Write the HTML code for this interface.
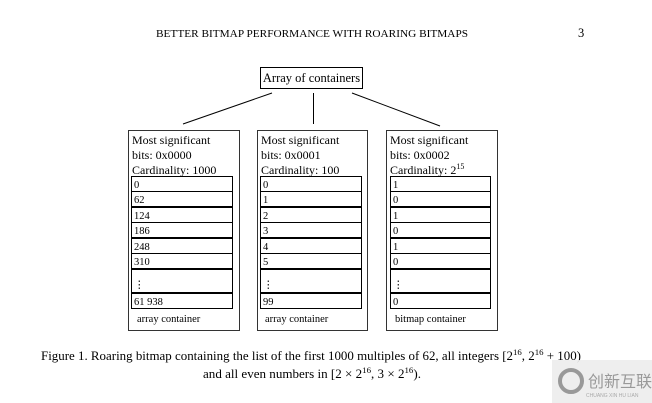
<!DOCTYPE html>
<html><head><meta charset="utf-8"><style>
html,body{margin:0;padding:0;background:#fff;}
svg{display:block;font-family:"Liberation Serif",serif;}
</style></head><body>
<svg width="652" height="403" viewBox="0 0 652 403" xmlns="http://www.w3.org/2000/svg">
<text x="312" y="37" font-size="10.5" text-anchor="middle" textLength="312" lengthAdjust="spacingAndGlyphs">BETTER BITMAP PERFORMANCE WITH ROARING BITMAPS</text>
<text x="578" y="37" font-size="12.5">3</text>
<rect x="260.5" y="67.5" width="102" height="21" fill="none" stroke="#000"/>
<text x="311.5" y="82" font-size="12.5" text-anchor="middle">Array of containers</text>
<g stroke="#000" stroke-width="1">
<line x1="272" y1="93" x2="183" y2="124"/>
<line x1="313.5" y1="93" x2="313.5" y2="124"/>
<line x1="352" y1="93" x2="440" y2="126"/>
</g>
<g font-size="12">
<!-- box1 -->
<rect x="128.5" y="130.5" width="111" height="200" fill="none" stroke="#333"/>
<text x="132" y="144">Most significant</text>
<text x="132" y="159">bits: 0x0000</text>
<text x="132" y="174">Cardinality: 1000</text>
<g fill="none" stroke="#000">
<rect x="131.5" y="176.5" width="101" height="15"/><rect x="131.5" y="191.5" width="101" height="15"/>
<rect x="131.5" y="207.5" width="101" height="15"/><rect x="131.5" y="222.5" width="101" height="15"/>
<rect x="131.5" y="238.5" width="101" height="15"/><rect x="131.5" y="253.5" width="101" height="15"/>
<rect x="131.5" y="269.5" width="101" height="23"/><rect x="131.5" y="293.5" width="101" height="15"/>
</g>
<g font-size="10.5">
<text x="134" y="188">0</text><text x="134" y="203">62</text><text x="134" y="219">124</text>
<text x="134" y="234">186</text><text x="134" y="250">248</text><text x="134" y="265">310</text>
<text x="134" y="288">⋮</text><text x="134" y="305">61 938</text>
<text x="137" y="322">array container</text>
</g>
<!-- box2 -->
<rect x="257.5" y="130.5" width="110" height="200" fill="none" stroke="#333"/>
<text x="261" y="144">Most significant</text>
<text x="261" y="159">bits: 0x0001</text>
<text x="261" y="174">Cardinality: 100</text>
<g fill="none" stroke="#000">
<rect x="260.5" y="176.5" width="101" height="15"/><rect x="260.5" y="191.5" width="101" height="15"/>
<rect x="260.5" y="207.5" width="101" height="15"/><rect x="260.5" y="222.5" width="101" height="15"/>
<rect x="260.5" y="238.5" width="101" height="15"/><rect x="260.5" y="253.5" width="101" height="15"/>
<rect x="260.5" y="269.5" width="101" height="23"/><rect x="260.5" y="293.5" width="101" height="15"/>
</g>
<g font-size="10.5">
<text x="263" y="188">0</text><text x="263" y="203">1</text><text x="263" y="219">2</text>
<text x="263" y="234">3</text><text x="263" y="250">4</text><text x="263" y="265">5</text>
<text x="263" y="288">⋮</text><text x="263" y="305">99</text>
<text x="265" y="322">array container</text>
</g>
<!-- box3 -->
<rect x="386.5" y="130.5" width="111" height="200" fill="none" stroke="#333"/>
<text x="390" y="144">Most significant</text>
<text x="390" y="159">bits: 0x0002</text>
<text x="390" y="174">Cardinality: 2<tspan font-size="8" dy="-5">15</tspan></text>
<g fill="none" stroke="#000">
<rect x="390.5" y="176.5" width="100" height="15"/><rect x="390.5" y="191.5" width="100" height="15"/>
<rect x="390.5" y="207.5" width="100" height="15"/><rect x="390.5" y="222.5" width="100" height="15"/>
<rect x="390.5" y="238.5" width="100" height="15"/><rect x="390.5" y="253.5" width="100" height="15"/>
<rect x="390.5" y="269.5" width="100" height="23"/><rect x="390.5" y="293.5" width="100" height="15"/>
</g>
<g font-size="10.5">
<text x="393" y="188">1</text><text x="393" y="203">0</text><text x="393" y="219">1</text>
<text x="393" y="234">0</text><text x="393" y="250">1</text><text x="393" y="265">0</text>
<text x="393" y="288">⋮</text><text x="393" y="305">0</text>
<text x="395" y="322">bitmap container</text>
</g>
</g>
<text x="41" y="360" font-size="12.5" textLength="540" lengthAdjust="spacingAndGlyphs">Figure 1. Roaring bitmap containing the list of the first 1000 multiples of 62, all integers [2<tspan font-size="8.5" dy="-5">16</tspan><tspan dy="5">, 2</tspan><tspan font-size="8.5" dy="-5">16</tspan><tspan dy="5"> + 100)</tspan></text>
<text x="203" y="378" font-size="12.5" textLength="218" lengthAdjust="spacingAndGlyphs">and all even numbers in [2 × 2<tspan font-size="8.5" dy="-5">16</tspan><tspan dy="5">, 3 × 2</tspan><tspan font-size="8.5" dy="-5">16</tspan><tspan dy="5">).</tspan></text>
<rect x="552" y="360" width="100" height="43" fill="#ececec" opacity="0.9"/>
<circle cx="571" cy="381" r="11" fill="none" stroke="#999" stroke-width="4"/>
<text x="588" y="387" font-size="16" fill="#999" font-family="'Noto Sans CJK SC',sans-serif">创新互联</text>
<text x="586" y="397" font-size="5" fill="#aaa" font-family="'Liberation Sans',sans-serif">CHUANG XIN HU LIAN</text>
</svg>
</body></html>
